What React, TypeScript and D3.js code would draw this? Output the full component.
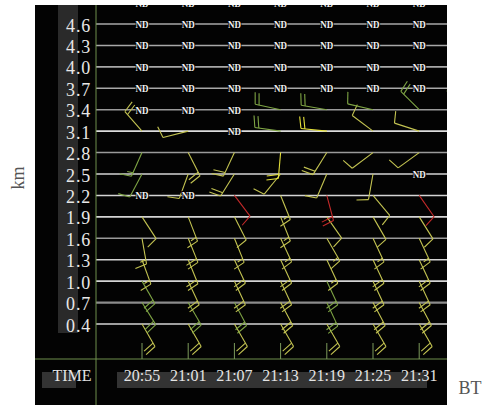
import React from 'react';
import * as d3 from 'd3';

// observation times (last column is only partly on screen)
const times = ['20:55', '21:01', '21:07', '21:13', '21:19', '21:25', '21:31', '21:37'];
// gate heights in km, bottom to top
const heights = [0.4, 0.7, 1.0, 1.3, 1.6, 1.9, 2.2, 2.5, 2.8, 3.1, 3.4, 3.7, 4.0, 4.3, 4.6, 4.9];
const heightTicks = ['0.4', '0.7', '1.0', '1.3', '1.6', '1.9', '2.2', '2.5', '2.8', '3.1', '3.4', '3.7', '4.0', '4.3', '4.6'];

// wind direction (deg) per time column, bottom to top. null = ND, -1 = nothing drawn
const windDir = [
  [150, 148, 150, 160, 170, 147, null, 208, 204, 319, null, null, null, null, null, null],
  [150, 150, 155, 158, 158, 159, null, 200, 153, 256, null, null, null, null, null, null],
  [150, 152, 155, 155, 158, 153, 143, 212, 205, null, null, null, null, null, null, null],
  [150, 152, 155, 155, 155, 158, 158, 219, 185, 278, 282, null, null, null, null, null],
  [150, 155, 155, 155, 150, 145, 165, 203, 212, 276, 280, null, null, null, null, null],
  [150, 152, 155, 155, 155, 150, 140, 190, 233, 307, 283, null, null, null, null, null],
  [150, 152, 155, 155, 155, 148, 145, null, 234, 288, 315, null, null, null, null, null],
  [150, 150, 155, 155, 155, 150, 321, -1, -1, -1, 315, null, null, null, null, null],
];
// wind speed (kt) per time column, bottom to top
const windSpeed = [
  [20, 20, 20, 15, 15, 10, 0, 10, 15, 20, 0, 0, 0, 0, 0, 0],
  [20, 20, 20, 20, 20, 15, 0, 10, 20, 10, 0, 0, 0, 0, 0, 0],
  [20, 20, 20, 20, 15, 10, 10, 20, 20, 0, 0, 0, 0, 0, 0, 0],
  [20, 20, 20, 20, 15, 15, 15, 10, 20, 20, 20, 0, 0, 0, 0, 0],
  [20, 20, 20, 15, 15, 10, 20, 10, 20, 20, 20, 0, 0, 0, 0, 0],
  [20, 20, 20, 20, 15, 10, 10, 10, 10, 10, 10, 0, 0, 0, 0, 0],
  [20, 20, 20, 20, 15, 10, 10, 0, 10, 10, 20, 0, 0, 0, 0, 0],
  [20, 20, 20, 20, 15, 10, 10, 0, 0, 0, 20, 0, 0, 0, 0, 0],
];
// colour class: y yellow, g green, b bright yellow, r red
const windClass = [
  ['y', 'g', 'g', 'y', 'y', 'y', '', 'g', 'g', 'y', '', '', '', '', '', ''],
  ['y', 'g', 'y', 'y', 'y', 'y', '', 'y', 'y', 'y', '', '', '', '', '', ''],
  ['y', 'g', 'y', 'y', 'y', 'y', 'r', 'y', 'y', '', '', '', '', '', '', ''],
  ['y', 'y', 'y', 'y', 'y', 'y', 'y', 'y', 'b', 'g', 'g', '', '', '', '', ''],
  ['y', 'g', 'g', 'y', 'y', 'y', 'r', 'y', 'y', 'b', 'g', '', '', '', '', ''],
  ['y', 'y', 'y', 'y', 'y', 'y', 'y', 'y', 'y', 'y', 'g', '', '', '', '', ''],
  ['y', 'y', 'y', 'y', 'y', 'y', 'r', '', 'y', 'y', 'g', '', '', '', '', ''],
  ['y', 'y', 'y', 'y', 'y', 'y', 'y', '', '', '', 'g', '', '', '', '', ''],
];

const barbColor: Record<string, string> = {
  y: '#c4c452',
  g: '#7fa545',
  b: '#e6e23c',
  r: '#c42a2a',
};
// grid line tone per height row (style only)
const gridTone = ['#d4d4d4', '#8c8c8c', '#d4d4d4', '#d4d4d4', '#9a9a9a', '#d4d4d4', '#d4d4d4', '#d4d4d4',
  '#9a9a9a', '#dcdcdc', '#9a9a9a', '#a8a8a8', '#a8a8a8', '#a8a8a8', '#a8a8a8', '#a8a8a8'];

const W = 492;
const H = 405;
const box = { left: 35, top: 5, right: 447, bottom: 405 };
const axisX = 96;
const timeAxisY = 359;
const serif = 'Liberation Serif';

const line = d3.line();

function barbSegments(sx: number, sy: number, dir: number, spd: number) {
  const L = 26, F = 12, gap = 4;
  const a = (dir * Math.PI) / 180;
  const ux = Math.sin(a), uy = -Math.cos(a);
  const tx = sx + L * ux, ty = sy + L * uy;
  const fa = ((dir + 78) * Math.PI) / 180;
  const fx = Math.sin(fa), fy = -Math.cos(fa);
  const segs: [number, number][][] = [[[sx, sy], [tx, ty]]];
  const full = Math.floor(spd / 10);
  const half = spd % 10 >= 5 ? 1 : 0;
  let pos = 0;
  for (let i = 0; i < full + half; i++) {
    const len = i < full ? F : F / 2;
    const bx = tx - ux * pos, by = ty - uy * pos;
    segs.push([[bx, by], [bx + fx * len, by + fy * len]]);
    pos += gap;
  }
  return segs;
}

export default function App() {
  const x = d3.scalePoint<string>().domain(times).range([142, 142 + 46.2 * (times.length - 1)]);
  const y = d3.scaleLinear().domain([0.4, 4.6]).range([324, 24]);

  const cells: { t: string; h: number; dir: number | null; spd: number; c: string }[] = [];
  times.forEach((t, i) => {
    heights.forEach((h, j) => {
      cells.push({ t, h, dir: windDir[i][j], spd: windSpeed[i][j], c: windClass[i][j] });
    });
  });
  const shownTimes = times.filter((t) => (x(t) as number) < box.right);

  return (
    <svg width={W} height={H} style={{ position: 'absolute', left: 0, top: 0, background: '#fff' }}>
      <defs>
        <clipPath id="plot">
          <rect x={box.left} y={box.top} width={box.right - box.left} height={box.bottom - box.top} />
        </clipPath>
      </defs>
      <rect x={box.left} y={box.top} width={box.right - box.left} height={box.bottom - box.top} fill="#030303" />
      <rect x={58} y={box.top} width={20} height={328} fill="#2a2a2a" />
      <rect x={117} y={372} width={310} height={16} fill="#333" />
      <rect x={42} y={372} width={34} height={16} fill="#333" />

      <g clipPath="url(#plot)">
        {heights.map((h, j) => (
          <line key={h} x1={axisX} x2={box.right} y1={y(h)} y2={y(h)}
            stroke={gridTone[j]} strokeWidth={gridTone[j] === '#8c8c8c' ? 2.2 : 1.6} />
        ))}
        <line x1={axisX} x2={axisX} y1={box.top} y2={box.bottom} stroke="#6f8f4c" strokeWidth={1} />
        <line x1={box.left} x2={box.right} y1={timeAxisY} y2={timeAxisY} stroke="#6f8f4c" strokeWidth={1} />
        {times.map((t) => (
          <line key={t} x1={x(t)} x2={x(t)} y1={343} y2={timeAxisY} stroke="#7d9b5c" strokeWidth={1} />
        ))}

        {cells.filter((d) => d.dir !== null && d.dir >= 0).map((d) => (
          <g key={`b${d.t}${d.h}`} stroke={barbColor[d.c]} strokeWidth={1.1} fill="none">
            {barbSegments(x(d.t)!, y(d.h), d.dir as number, d.spd).map((s, k) => (
              <path key={k} d={line(s) || ''} />
            ))}
          </g>
        ))}

        {cells.filter((d) => d.dir === null).map((d) => (
          <text key={`n${d.t}${d.h}`} x={x(d.t)} y={y(d.h) + 4} textAnchor="middle"
            fontFamily={serif} fontWeight="bold" fontSize={11} fill="#f2f2f2"
            stroke="#000" strokeWidth={2} paintOrder="stroke"
            textLength={13} lengthAdjust="spacingAndGlyphs">ND</text>
        ))}
      </g>

      {shownTimes.map((t) => (
        <text key={`t${t}`} x={x(t)} y={381} textAnchor="middle" fontFamily={serif}
          fontSize={16} fill="#e4e4e4">{t}</text>
      ))}
      {heightTicks.map((s) => (
        <text key={s} x={91} y={y(+s) + 7.5} textAnchor="end" fontFamily={serif}
          fontSize={18} letterSpacing={0.8} fill="#e8e8e8">{s}</text>
      ))}
      <text x={72} y={381} textAnchor="middle" fontFamily={serif} fontSize={16} fill="#e4e4e4">TIME</text>

      <text transform="translate(24,178) rotate(-90)" textAnchor="middle" fontFamily={serif}
        fontSize={18} fill="#555">km</text>
      <text x={470} y={394} textAnchor="middle" fontFamily={serif} fontSize={18} fill="#555">BT</text>
    </svg>
  );
}
